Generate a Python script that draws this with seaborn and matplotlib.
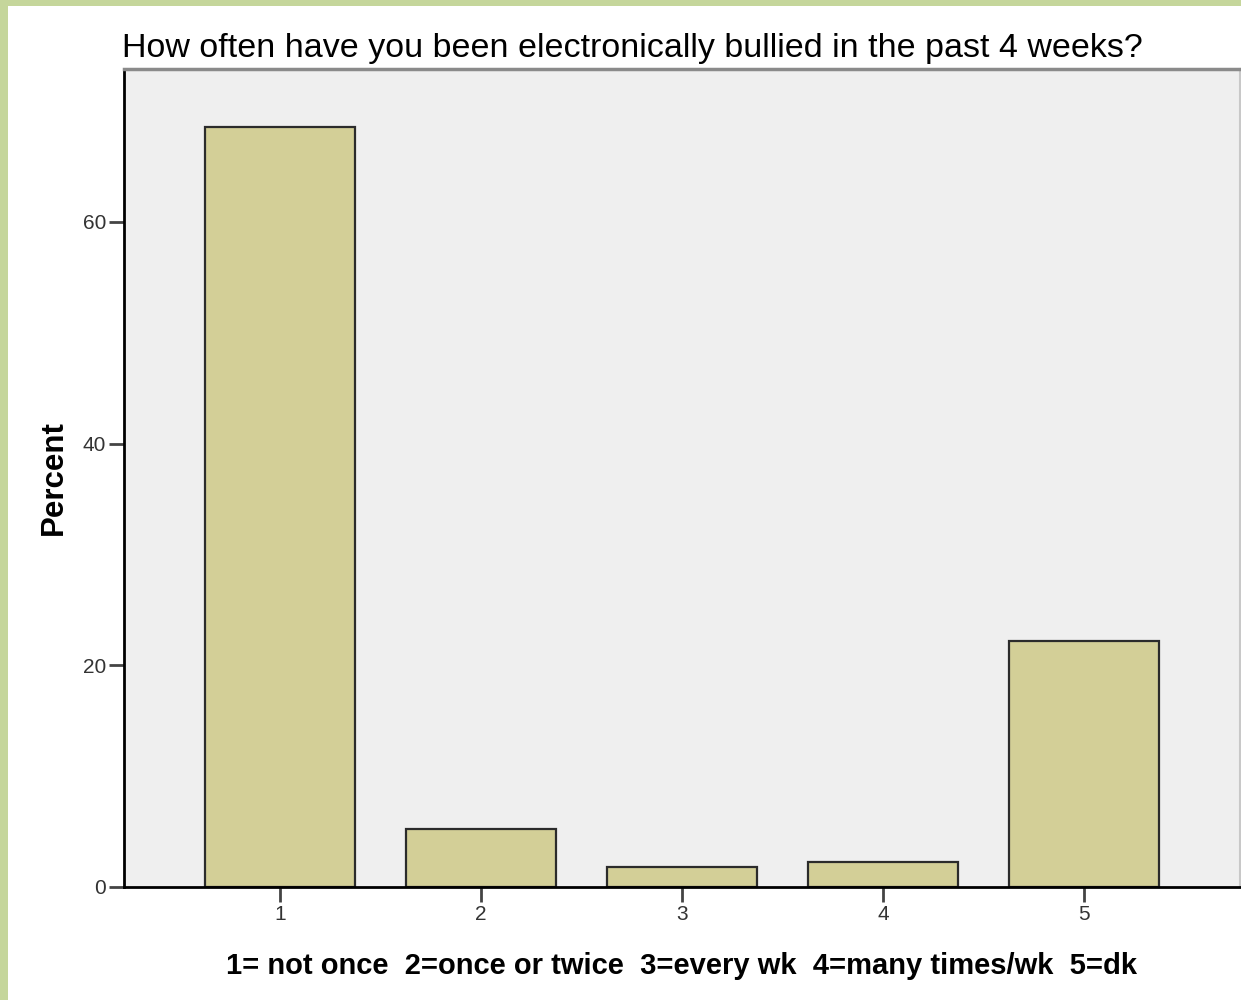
import numpy as np
import pandas as pd
import matplotlib
matplotlib.use("Agg")
import matplotlib.pyplot as plt
import seaborn as sns
from matplotlib.patches import Rectangle

# data
categories = ["1", "2", "3", "4", "5"]
percent = [68.6, 5.2, 1.8, 2.3, 22.2]
y_ticks = [0, 20, 40, 60]

df = pd.DataFrame({"answer": categories, "percent": percent})

sns.set_style("white")
plt.rcParams['font.family'] = ['Liberation Sans', 'DejaVu Sans']

fig = plt.figure(figsize=(12.41, 10), dpi=100)
ax = fig.add_axes([124/1241, 1 - 887/1000, (1240 - 124)/1241, (887 - 69)/1000])
ax.set_facecolor("#efefef")

sns.barplot(data=df, x="answer", y="percent", color="#d3cf97", width=0.75,
            edgecolor="#2b2b2b", linewidth=1.6, saturation=1, ax=ax)

ax.set_xlim(-0.776, 4.776)
ax.set_ylim(0, 73.8)
ax.set_yticks(y_ticks)
ax.set_yticklabels([str(t) for t in y_ticks])

ax.tick_params(axis="both", direction="out", length=11, width=2, color="#444444",
               labelsize=15, labelcolor="#333333", left=True, bottom=True, pad=2)

for s in ["left", "bottom"]:
    ax.spines[s].set_color("black")
    ax.spines[s].set_linewidth(2)
ax.spines["top"].set_color("#8a8a8a")
ax.spines["top"].set_linewidth(2.5)
ax.spines["right"].set_color("#c8c8c8")
ax.spines["right"].set_linewidth(1.5)

ax.set_xlabel("1= not once  2=once or twice  3=every wk  4=many times/wk  5=dk",
              fontsize=21, fontweight="bold", labelpad=20, color="black")
ax.set_ylabel("Percent", fontsize=22.5, fontweight="bold", labelpad=10, color="black")

fig.text(122/1241, 1 - 48/1000, "How often have you been electronically bullied in the past 4 weeks?",
         fontsize=24.5, ha="left", va="center", color="black")

# green frame round the output
fig.patches.append(Rectangle((0, 0), 8/1241, 1, transform=fig.transFigure,
                             facecolor="#c5d69b", edgecolor="none"))
fig.patches.append(Rectangle((0, 1 - 6/1000), 1, 6/1000, transform=fig.transFigure,
                             facecolor="#c5d69b", edgecolor="none"))

fig.savefig("out.png", dpi=100)
